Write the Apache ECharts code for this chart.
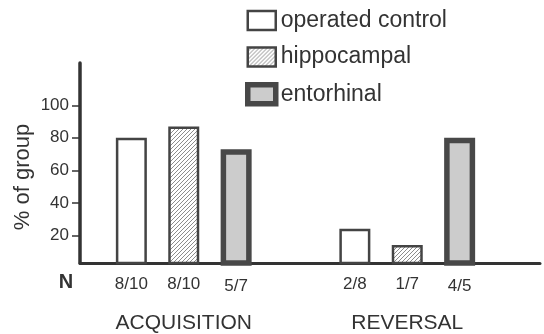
<!DOCTYPE html>
<html><head><meta charset="utf-8">
<script src="https://cdn.jsdelivr.net/npm/echarts@6/dist/echarts.min.js"></script>
<style>html,body{margin:0;padding:0;background:#fff}#c{width:544px;height:334px}</style>
</head><body><div id="c"></div>
<script>
const phases = ['ACQUISITION', 'REVERSAL'];
const groups = ['operated control', 'hippocampal', 'entorhinal'];
const operatedControl = [80, 24];
const hippocampal = [87, 14];
const entorhinal = [73, 80];
const nOperated = ['8/10', '2/8'];
const nHippocampal = ['8/10', '1/7'];
const nEntorhinal = ['5/7', '4/5'];
const yTicks = [20, 40, 60, 80, 100];
const yTitle = '% of group';
const nTitle = 'N';

const FONT = "'Liberation Sans', Arial, Helvetica, sans-serif";
const INK = '#333333';

function hatch() {
  const c = document.createElement('canvas');
  c.width = 4; c.height = 4;
  const g = c.getContext('2d');
  g.fillStyle = '#ffffff'; g.fillRect(0, 0, 4, 4);
  g.strokeStyle = '#8c8c8c'; g.lineWidth = 1;
  g.beginPath();
  g.moveTo(0, 4); g.lineTo(4, 0);
  g.moveTo(-1, 1); g.lineTo(1, -1);
  g.moveTo(3, 5); g.lineTo(5, 3);
  g.stroke();
  return c;
}
const hatchFill = { image: hatch(), repeat: 'repeat' };

const styles = [
  { color: '#ffffff', borderColor: '#444444', borderWidth: 2.5 },
  { color: hatchFill, borderColor: '#444444', borderWidth: 2.5 },
  { color: '#cccccc', borderColor: '#484848', borderWidth: 5.5 }
];

function nLabel(arr) {
  return {
    show: true, position: 'bottom', distance: 12,
    formatter: p => arr[p.dataIndex],
    fontSize: 17, color: INK, fontFamily: FONT
  };
}

const chart = echarts.init(document.getElementById('c'), null, { renderer: 'canvas' });
chart.setOption({
  animation: false,
  backgroundColor: '#ffffff',
  textStyle: { fontFamily: FONT, color: INK },
  grid: [
    { left: 80, right: 4, top: 63, bottom: 71 },
    { left: 72, width: 447, top: 63, bottom: 71 }
  ],
  xAxis: [
    { gridIndex: 0, type: 'value', min: 0, max: 1,
      axisLine: { show: true, lineStyle: { color: INK, width: 3 } },
      axisTick: { show: false }, axisLabel: { show: false }, splitLine: { show: false } },
    { gridIndex: 1, type: 'category', data: phases,
      axisLine: { show: false }, axisTick: { show: false }, splitLine: { show: false },
      axisLabel: { show: true, margin: 50, fontSize: 21, color: INK, fontFamily: FONT } }
  ],
  yAxis: [
    { gridIndex: 0, type: 'value', min: 3, max: 126,
      axisLine: { show: true, lineStyle: { color: INK, width: 3.5 } },
      axisTick: { show: true, customValues: yTicks, length: 8, lineStyle: { color: INK, width: 1.5 } },
      axisLabel: { show: true, customValues: yTicks, fontSize: 17, margin: 11, color: INK, fontFamily: FONT },
      splitLine: { show: false } },
    { gridIndex: 1, type: 'value', min: 3, max: 126, show: false }
  ],
  legend: {
    orient: 'vertical', left: 245, top: 9, padding: 0,
    itemWidth: 28, itemHeight: 19, itemGap: 13.5, icon: 'rect',
    data: groups.map((g, i) => ({ name: g, itemStyle: styles[i] })),
    textStyle: { fontSize: 23, color: INK, fontFamily: FONT }
  },
  graphic: [
    { type: 'text', x: 66, y: 282, style: { text: nTitle, fontSize: 20, fontWeight: 'bold', fontFamily: FONT, fill: INK, align: 'center', verticalAlign: 'middle' } },
    { type: 'text', x: 23, y: 177, rotation: Math.PI / 2, style: { text: yTitle, fontSize: 22, fontFamily: FONT, fill: INK, align: 'center', verticalAlign: 'middle' } }
  ],
  series: [
    { name: groups[0], type: 'bar', xAxisIndex: 1, yAxisIndex: 1, data: operatedControl,
      barWidth: 31, barGap: '69%', itemStyle: styles[0], label: nLabel(nOperated) },
    { name: groups[1], type: 'bar', xAxisIndex: 1, yAxisIndex: 1, data: hippocampal,
      barWidth: 31, barGap: '69%', itemStyle: styles[1], label: nLabel(nHippocampal) },
    { name: groups[2], type: 'bar', xAxisIndex: 1, yAxisIndex: 1, data: entorhinal,
      barWidth: 31, barGap: '69%', itemStyle: styles[2], label: nLabel(nEntorhinal) }
  ]
});
</script>
</body></html>
